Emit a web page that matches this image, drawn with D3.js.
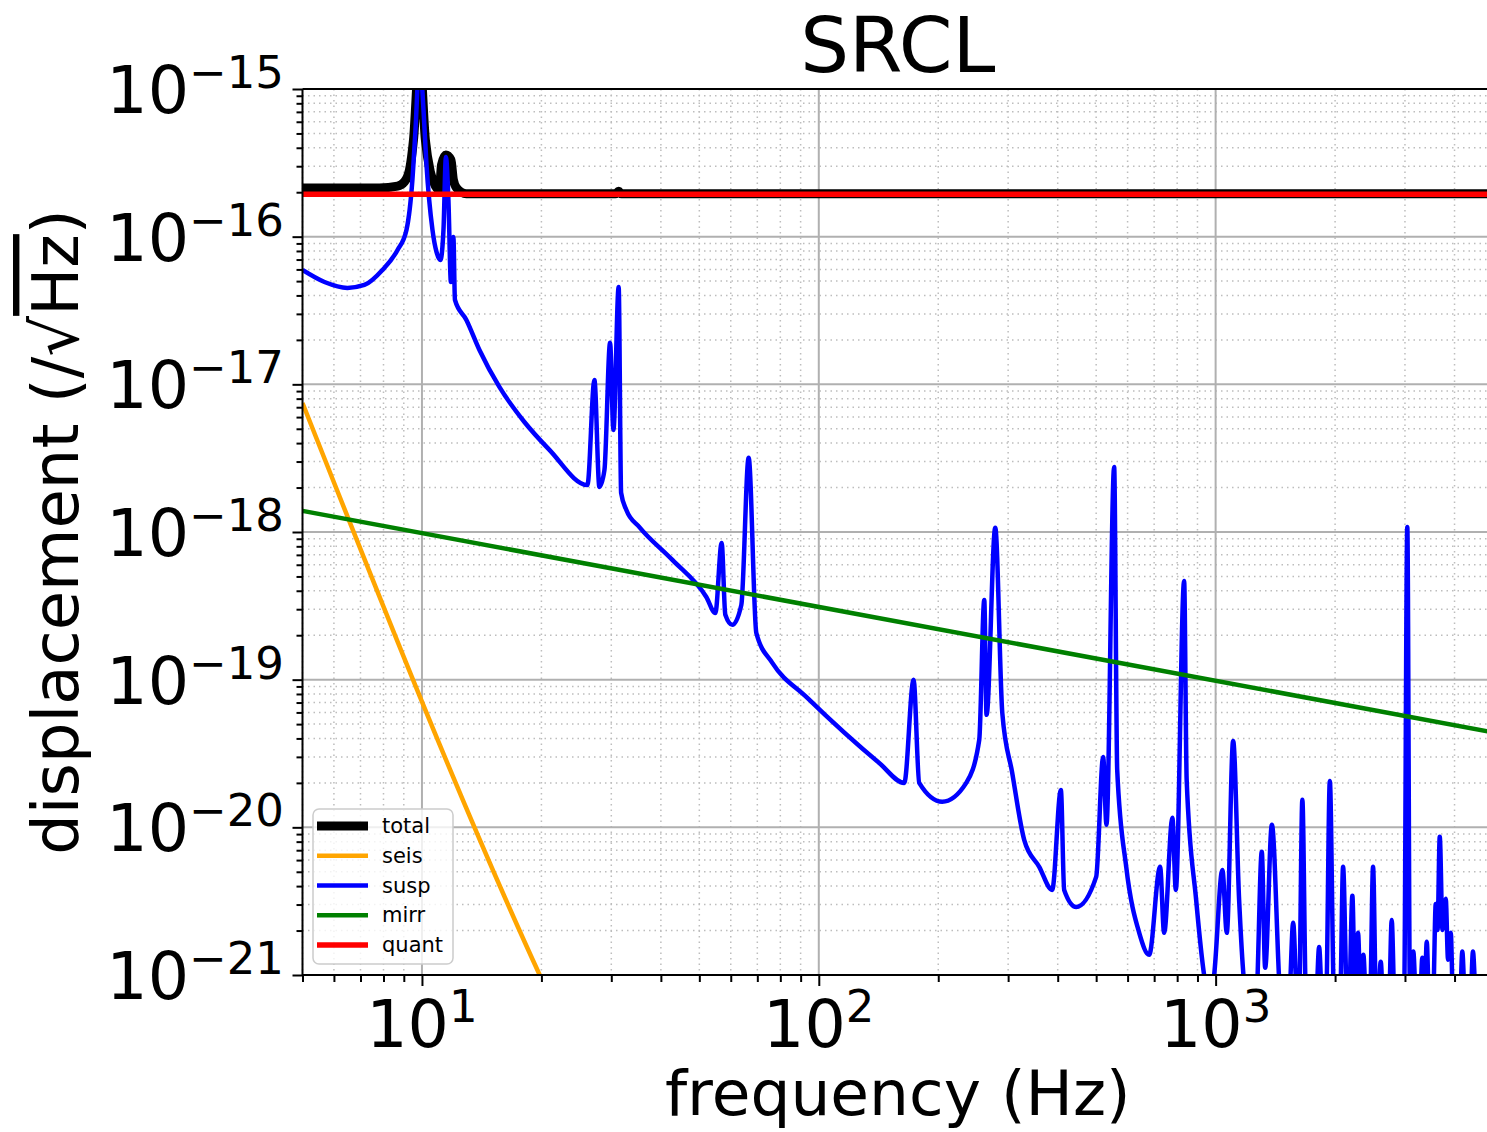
<!DOCTYPE html>
<html>
<head>
<meta charset="utf-8">
<script src="https://cdn.jsdelivr.net/npm/d3@7"></script>
<style>
    body { margin: 0; background: #fff; }
    svg { display: block; font-family: "DejaVu Sans", sans-serif; }
</style>
</head>
<body>
<div id="chart"></div>
<script>
// ---- chart data ----
const chartTitle = "SRCL"
const xLabel = "frequency (Hz)"
const seriesNames = ["total", "seis", "susp", "mirr", "quant"]
const xTickExps = [1, 2, 3]
const yTickExps = [-15, -16, -17, -18, -19, -20, -21]

// [frequency Hz, displacement /rtHz]
const totalPoints = [
    [5.0, 2.14e-16], [7.81, 2.14e-16], [8.68, 2.20e-16], [9.03, 2.35e-16], [9.30, 2.83e-16],
    [9.52, 4.52e-16], [9.86, 1.70e-15], [10.20, 4.52e-16], [10.50, 2.74e-16], [10.81, 2.20e-16],
    [11.07, 2.07e-16], [11.20, 3.06e-16], [11.49, 3.57e-16], [11.83, 3.31e-16], [12.00, 2.42e-16],
    [12.22, 2.14e-16], [12.94, 1.95e-16], [30.72, 1.95e-16], [31.31, 2.03e-16], [31.81, 1.95e-16],
    [5000, 1.95e-16]
]
const seisPoints = [
    [5.0, 7.48e-18], [19.8, 1.0e-21], [21.5, 6.2e-22]
]
const suspPoints = [
    [5.00, 5.95e-17], [5.68, 4.93e-17], [6.49, 4.50e-17], [7.16, 4.71e-17], [7.95, 5.95e-17],
    [8.68, 8.13e-17], [9.14, 1.11e-16], [9.46, 2.42e-16], [9.63, 5.27e-16], [9.86, 1.6e-15],
    [10.09, 7.21e-16], [10.26, 3.15e-16], [10.63, 1.11e-16], [10.88, 7.88e-17], [11.13, 6.95e-17],
    [11.33, 1.11e-16], [11.49, 3.46e-16], [11.66, 1.77e-16], [11.83, 4.93e-17], [12.00, 9.95e-17],
    [12.11, 3.73e-17], [12.94, 2.73e-17], [13.96, 1.71e-17], [15.67, 9.60e-18], [18.12, 5.56e-18],
    [20.95, 3.60e-18], [26.12, 2.08e-18],
    [27.20, 1.07e-17], [28.00, 2.02e-18], [28.83, 2.63e-18], [29.79, 1.91e-17], [30.37, 4.91e-18],
    [31.31, 4.56e-17], [31.76, 1.84e-18], [32.74, 1.41e-18], [35.31, 1.08e-18], [42.76, 6.47e-19],
    [52.07, 3.63e-19], [54.87, 2.83e-19], [56.91, 8.44e-19], [58.14, 2.75e-19], [60.55, 2.35e-19],
    [63.80, 3.21e-19], [66.56, 3.18e-18], [69.60, 2.07e-19], [76.36, 1.30e-19], [93.0, 7.64e-20],
    [142.0, 2.73e-20], [164.2, 2.00e-20], [173.3, 9.97e-20], [179.1, 2.00e-20], [204.7, 1.49e-20],
    [235.3, 2.00e-20], [253.7, 3.91e-20], [261.2, 3.47e-19], [264.7, 5.78e-20], [278.4, 1.07e-18],
    [290.0, 5.96e-20], [307.2, 2.34e-20], [329.3, 8.23e-21], [359.3, 5.40e-21], [387.4, 3.77e-21],
    [407.4, 1.79e-20], [415.3, 3.77e-21], [445.3, 2.89e-21], [500.0, 4.62e-21], [520.7, 3.00e-20],
    [530.8, 1.04e-20], [555.0, 2.76e-18], [564.9, 2.45e-20], [595.2, 5.40e-21], [641.9, 1.93e-21],
    [680.0, 1.37e-21], [724.6, 5.40e-21], [741.7, 1.93e-21], [778.3, 1.16e-20], [793.7, 3.77e-21],
    [833.0, 4.66e-19], [845.3, 2.10e-20], [893.1, 3.23e-21], [935.4, 1.0e-21], [962.9, 6.8e-22],
    [991.3, 1.0e-21], [1040, 5.15e-21], [1067, 1.93e-21], [1107, 3.85e-20], [1146, 3.23e-21],
    [1200, 6.8e-22], [1265, 6.8e-22], [1307, 6.83e-21], [1333, 1.12e-21], [1386, 1.04e-20],
    [1462, 6.8e-22], [1531, 6.8e-22], [1568, 2.26e-21], [1605, 6.8e-22], [1623, 6.8e-22],
    [1654, 1.54e-20], [1690, 6.8e-22], [1791, 6.8e-22], [1823, 1.55e-21], [1855, 6.8e-22],
    [1898, 6.8e-22], [1940, 2.06e-20], [1989, 6.8e-22], [2059, 6.8e-22], [2095, 5.40e-21],
    [2144, 6.8e-22], [2169, 6.8e-22], [2211, 3.44e-21], [2246, 6.8e-22], [2285, 1.93e-21],
    [2319, 6.8e-22], [2357, 1.37e-21], [2393, 6.8e-22], [2450, 6.8e-22], [2493, 5.40e-21],
    [2537, 6.8e-22], [2567, 6.8e-22], [2607, 1.23e-21], [2642, 6.8e-22], [2735, 6.8e-22],
    [2778, 2.36e-21], [2824, 6.8e-22], [2984, 6.8e-22], [3041, 1.08e-18], [3089, 6.8e-22],
    [3116, 6.8e-22], [3149, 1.44e-21], [3199, 6.8e-22], [3274, 6.8e-22], [3318, 1.31e-21],
    [3361, 6.8e-22], [3404, 1.68e-21], [3450, 6.8e-22], [3531, 6.8e-22], [3587, 3.03e-21],
    [3624, 2.02e-21], [3671, 8.62e-21], [3731, 2.02e-21], [3801, 3.28e-21], [3852, 1.27e-21],
    [3913, 1.93e-21], [3965, 6.8e-22], [4129, 6.8e-22], [4184, 1.44e-21], [4250, 6.8e-22],
    [4387, 6.8e-22], [4451, 1.44e-21], [4530, 6.8e-22], [5000, 6.8e-22]
]
const mirrPoints = [
    [5, 1.39e-18], [5000, 4.40e-20]
]
const quantPoints = [
    [5, 1.94e-16], [5000, 1.94e-16]
]

// ---- layout ----
const WIDTH = 1487
const HEIGHT = 1132
const PLOT = {LEFT: 302.5, RIGHT: 1493, TOP: 89, BOTTOM: 975}

const STYLE = {
    total: {colour: "#000000", width: 9},
    seis:  {colour: "#ffa500", width: 4.5},
    susp:  {colour: "#0000ff", width: 4.5},
    mirr:  {colour: "#008000", width: 4.5},
    quant: {colour: "#ff0000", width: 5.5}
}

const svg = d3.select("#chart").append("svg")
    .attr("width", WIDTH)
    .attr("height", HEIGHT)
    .style("background", "#fff")

const x = d3.scaleLog().domain([5, 5000]).range([PLOT.LEFT, PLOT.RIGHT])
const y = d3.scaleLog().domain([1e-21, 1e-15]).range([PLOT.BOTTOM, PLOT.TOP])

// minor tick values for log axes
const xMinor = []
for (let e = 0; e <= 3; e++) for (let k = 2; k <= 9; k++) {
    const v = k * Math.pow(10, e)
    if (v >= 5 && v <= 5000) xMinor.push(v)
}
const yMinor = []
for (let e = -21; e < -15; e++) for (let k = 2; k <= 9; k++) yMinor.push(k * Math.pow(10, e))
const xMajor = xTickExps.map(e => Math.pow(10, e))
const yMajor = yTickExps.map(e => Math.pow(10, e))

// grid
const grid = svg.append("g")
grid.selectAll(".xminor").data(xMinor).enter().append("line")
    .attr("x1", d => x(d)).attr("x2", d => x(d))
    .attr("y1", PLOT.TOP).attr("y2", PLOT.BOTTOM)
    .attr("stroke", "#bdbdbd").attr("stroke-width", 1.5).attr("stroke-dasharray", "1.5,4")
grid.selectAll(".yminor").data(yMinor).enter().append("line")
    .attr("x1", PLOT.LEFT).attr("x2", PLOT.RIGHT)
    .attr("y1", d => y(d)).attr("y2", d => y(d))
    .attr("stroke", "#bdbdbd").attr("stroke-width", 1.5).attr("stroke-dasharray", "1.5,4")
grid.selectAll(".xmajor").data(xMajor).enter().append("line")
    .attr("x1", d => x(d)).attr("x2", d => x(d))
    .attr("y1", PLOT.TOP).attr("y2", PLOT.BOTTOM)
    .attr("stroke", "#b0b0b0").attr("stroke-width", 2)
grid.selectAll(".ymajor").data(yMajor).enter().append("line")
    .attr("x1", PLOT.LEFT).attr("x2", PLOT.RIGHT)
    .attr("y1", d => y(d)).attr("y2", d => y(d))
    .attr("stroke", "#b0b0b0").attr("stroke-width", 2)

// data lines, clipped to the axes box
svg.append("clipPath").attr("id", "plotclip")
    .append("rect")
    .attr("x", PLOT.LEFT).attr("y", PLOT.TOP)
    .attr("width", PLOT.RIGHT - PLOT.LEFT).attr("height", PLOT.BOTTOM - PLOT.TOP)

const line = d3.line()
    .x(d => x(d[0]))
    .y(d => y(d[1]))
    .curve(d3.curveMonotoneX)

const seriesData = [totalPoints, seisPoints, suspPoints, mirrPoints, quantPoints]
const lines = svg.append("g").attr("clip-path", "url(#plotclip)")
seriesNames.forEach((name, i) => {
    lines.append("path")
        .datum(seriesData[i])
        .attr("d", line)
        .attr("fill", "none")
        .attr("stroke", STYLE[name].colour)
        .attr("stroke-width", STYLE[name].width)
        .attr("stroke-linejoin", "round")
        .attr("stroke-linecap", "butt")
})

// axes (ticks only, labels drawn by hand for superscripts)
function styleAxis(sel) {
    sel.select(".domain").remove()
    sel.selectAll("line").attr("stroke", "#000").attr("stroke-width", 2)
}
svg.append("g").attr("transform", `translate(0,${PLOT.BOTTOM})`)
    .call(d3.axisBottom(x).tickValues(xMajor).tickSize(11).tickFormat("")).call(styleAxis)
svg.append("g").attr("transform", `translate(0,${PLOT.BOTTOM})`)
    .call(d3.axisBottom(x).tickValues(xMinor).tickSize(7).tickFormat("")).call(styleAxis)
svg.append("g").attr("transform", `translate(${PLOT.LEFT},0)`)
    .call(d3.axisLeft(y).tickValues(yMajor).tickSize(10).tickFormat("")).call(styleAxis)
svg.append("g").attr("transform", `translate(${PLOT.LEFT},0)`)
    .call(d3.axisLeft(y).tickValues(yMinor).tickSize(6).tickFormat("")).call(styleAxis)

// spines: left, bottom, top
const spines = svg.append("g").attr("stroke", "#000").attr("stroke-width", 2)
spines.append("line").attr("x1", PLOT.LEFT).attr("x2", PLOT.LEFT).attr("y1", PLOT.TOP).attr("y2", PLOT.BOTTOM)
spines.append("line").attr("x1", PLOT.LEFT).attr("x2", PLOT.RIGHT).attr("y1", PLOT.BOTTOM).attr("y2", PLOT.BOTTOM)
spines.append("line").attr("x1", PLOT.LEFT).attr("x2", PLOT.RIGHT).attr("y1", PLOT.TOP).attr("y2", PLOT.TOP)

// tick labels as 10^n
xTickExps.forEach(e => {
    const t = svg.append("text")
        .attr("x", x(Math.pow(10, e)))
        .attr("y", 1047)
        .attr("text-anchor", "middle")
        .style("font-size", "65px")
    t.append("tspan").text("10")
    t.append("tspan").attr("dy", -25).style("font-size", "45px").text(String(e))
})
yTickExps.forEach(e => {
    const t = svg.append("text")
        .attr("x", 284)
        .attr("y", y(Math.pow(10, e)) + 24)
        .attr("text-anchor", "end")
        .style("font-size", "65px")
    t.append("tspan").text("10")
    t.append("tspan").attr("dy", -25).style("font-size", "45px").text("\u2212" + Math.abs(e))
})

// title and axis labels
svg.append("text")
    .attr("x", (PLOT.LEFT + PLOT.RIGHT) / 2)
    .attr("y", 72)
    .attr("text-anchor", "middle")
    .style("font-size", "77px")
    .text(chartTitle)

svg.append("text")
    .attr("x", (PLOT.LEFT + PLOT.RIGHT) / 2)
    .attr("y", 1115)
    .attr("text-anchor", "middle")
    .style("font-size", "63px")
    .text(xLabel)

const yl = svg.append("text")
    .attr("transform", `translate(78,${(PLOT.TOP + PLOT.BOTTOM) / 2}) rotate(-90)`)
    .attr("text-anchor", "middle")
    .style("font-size", "64px")
yl.append("tspan").text("displacement (/\u221A")
yl.append("tspan").style("text-decoration", "overline").text("Hz")
yl.append("tspan").text(")")

// legend
const LEG = {X: 313, Y: 809, W: 140, H: 155, ROW: 29.75}
const legend = svg.append("g")
legend.append("rect")
    .attr("x", LEG.X).attr("y", LEG.Y)
    .attr("width", LEG.W).attr("height", LEG.H)
    .attr("rx", 6).attr("ry", 6)
    .attr("fill", "#fff").attr("fill-opacity", 0.8)
    .attr("stroke", "#cccccc").attr("stroke-width", 1.5)
seriesNames.forEach((name, i) => {
    const ly = LEG.Y + 17 + i * LEG.ROW
    legend.append("line")
        .attr("x1", LEG.X + 4).attr("x2", LEG.X + 55)
        .attr("y1", ly).attr("y2", ly)
        .attr("stroke", STYLE[name].colour)
        .attr("stroke-width", STYLE[name].width)
    legend.append("text")
        .attr("x", LEG.X + 69).attr("y", ly + 7)
        .style("font-size", "21px")
        .text(name)
})
</script>
</body>
</html>
